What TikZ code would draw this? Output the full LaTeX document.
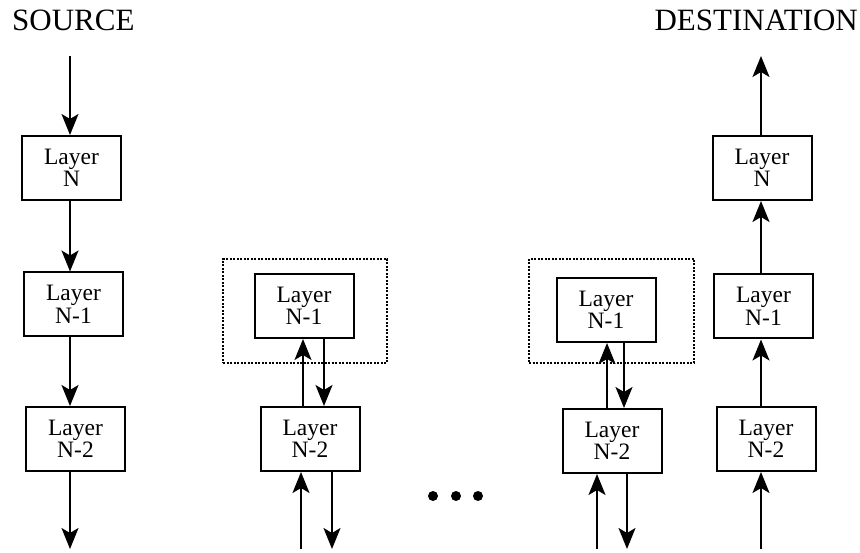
\documentclass[tikz,border=0pt]{standalone}
\usepackage{fontspec}
\setmainfont{Liberation Serif}
\usetikzlibrary{arrows.meta}
\begin{document}
\begin{tikzpicture}[x=1pt,y=-1pt,
  layerbox/.style={draw, line width=2pt, minimum width=99pt, minimum height=64pt, inner sep=0pt, align=center, font=\fontsize{23.5}{22.5}\selectfont},
  arr/.style={line width=2pt, -{Stealth[length=21pt,width=17pt,inset=5pt]}},
  dotbox/.style={draw, line width=2pt, dash pattern=on 2pt off 1.5pt},
  title/.style={font=\fontsize{31}{31}\selectfont, inner sep=0pt, anchor=base west}]
\useasboundingbox (0,0) rectangle (860,553);
% titles
\node[title] (src) at (12,31) {SOURCE};
\node[title, anchor=base east] (dst) at (858,31) {DESTINATION};
% column 1
\node[layerbox] (a1) at (71.5,168) {Layer\\N};
\node[layerbox] (a2) at (73.5,304.5) {Layer\\N-1};
\node[layerbox] (a3) at (75.5,439) {Layer\\N-2};
% column 2
\node[dotbox, minimum width=164pt, minimum height=104pt] (f2) at (305,311) {};
\node[layerbox] (b2) at (304,306) {Layer\\N-1};
\node[layerbox] (b3) at (310,439) {Layer\\N-2};
% column 3
\node[dotbox, minimum width=165pt, minimum height=104pt] (f3) at (611.5,311) {};
\node[layerbox] (c2) at (606,310) {Layer\\N-1};
\node[layerbox] (c3) at (612,441) {Layer\\N-2};
% column 4
\node[layerbox] (d1) at (762,168) {Layer\\N};
\node[layerbox] (d2) at (763.5,306.5) {Layer\\N-1};
\node[layerbox] (d3) at (766,439) {Layer\\N-2};
% helper coordinates
\coordinate (top) at (0,56);
\coordinate (bot) at (0,549);
\coordinate (x1) at (70,0);
\coordinate (x2u) at (303,0);
\coordinate (x2d) at (324,0);
\coordinate (x2i) at (301,0);
\coordinate (x2o) at (332,0);
\coordinate (x3u) at (607,0);
\coordinate (x3d) at (624,0);
\coordinate (x3i) at (597,0);
\coordinate (x3o) at (627,0);
\coordinate (x4) at (761,0);
% column 1 arrows
\draw[arr] (top -| x1) -- (a1.north -| x1);
\draw[arr] (a1.south -| x1) -- (a2.north -| x1);
\draw[arr] (a2.south -| x1) -- (a3.north -| x1);
\draw[arr] (a3.south -| x1) -- (bot -| x1);
% column 2 arrows
\draw[arr] (b3.north -| x2u) -- (b2.south -| x2u);
\draw[arr] (b2.south -| x2d) -- (b3.north -| x2d);
\draw[arr] (bot -| x2i) -- (b3.south -| x2i);
\draw[arr] (b3.south -| x2o) -- (bot -| x2o);
% column 3 arrows
\draw[arr] (c3.north -| x3u) -- (c2.south -| x3u);
\draw[arr] (c2.south -| x3d) -- (c3.north -| x3d);
\draw[arr] (bot -| x3i) -- (c3.south -| x3i);
\draw[arr] (c3.south -| x3o) -- (bot -| x3o);
% column 4 arrows
\draw[arr] (d1.north -| x4) -- (top -| x4);
\draw[arr] (d2.north -| x4) -- (d1.south -| x4);
\draw[arr] (d3.north -| x4) -- (d2.south -| x4);
\draw[arr] (bot -| x4) -- (d3.south -| x4);
% ellipsis dots
\fill (433,496) circle (5pt);
\fill (456,496) circle (5pt);
\fill (478,496) circle (5pt);
\end{tikzpicture}
\end{document}
